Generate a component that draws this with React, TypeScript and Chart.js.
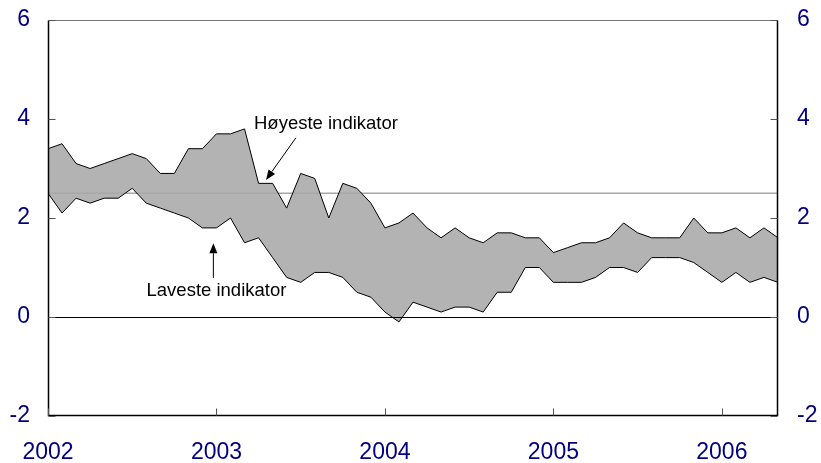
import React, { useEffect, useRef } from 'react';
import { Chart, registerables } from 'chart.js';

Chart.register(...registerables);

const months = [
  '2002-01','2002-02','2002-03','2002-04','2002-05','2002-06','2002-07','2002-08','2002-09','2002-10','2002-11','2002-12',
  '2003-01','2003-02','2003-03','2003-04','2003-05','2003-06','2003-07','2003-08','2003-09','2003-10','2003-11','2003-12',
  '2004-01','2004-02','2004-03','2004-04','2004-05','2004-06','2004-07','2004-08','2004-09','2004-10','2004-11','2004-12',
  '2005-01','2005-02','2005-03','2005-04','2005-05','2005-06','2005-07','2005-08','2005-09','2005-10','2005-11','2005-12',
  '2006-01','2006-02','2006-03','2006-04','2006-05',
];

const highest = [
  3.4, 3.5, 3.1, 3.0, 3.1, 3.2, 3.3, 3.2, 2.9, 2.9, 3.4, 3.4,
  3.7, 3.7, 3.8, 2.7, 2.7, 2.2, 2.9, 2.8, 2.0, 2.7, 2.6, 2.3,
  1.8, 1.9, 2.1, 1.8, 1.6, 1.8, 1.6, 1.5, 1.7, 1.7, 1.6, 1.6,
  1.3, 1.4, 1.5, 1.5, 1.6, 1.9, 1.7, 1.6, 1.6, 1.6, 2.0, 1.7,
  1.7, 1.8, 1.6, 1.8, 1.6,
];

const lowest = [
  2.5, 2.1, 2.4, 2.3, 2.4, 2.4, 2.6, 2.3, 2.2, 2.1, 2.0, 1.8,
  1.8, 2.0, 1.5, 1.6, 1.2, 0.8, 0.7, 0.9, 0.9, 0.8, 0.5, 0.4,
  0.1, -0.1, 0.3, 0.2, 0.1, 0.2, 0.2, 0.1, 0.5, 0.5, 1.0, 1.0,
  0.7, 0.7, 0.7, 0.8, 1.0, 1.0, 0.9, 1.2, 1.2, 1.2, 1.1, 0.9,
  0.7, 0.9, 0.7, 0.8, 0.7,
];

const yearLabels = ['2002', '2003', '2004', '2005', '2006'];
const yearStartMonths = ['2002-01', '2003-01', '2004-01', '2005-01', '2006-01'];
const yTicks = [-2, 0, 2, 4, 6];
const inflationTarget = 2.5;

const annotations = [
  { text: 'Høyeste indikator', textX: 19.8, textY: 3.9, fromX: 17.66, fromY: 3.62, toX: 15.53, toY: 2.77 },
  { text: 'Laveste indikator', textX: 12.0, textY: 0.53, fromX: 11.78, fromY: 0.79, toX: 11.78, toY: 1.49 },
];

const FONT = "'Liberation Sans', Arial, Helvetica, sans-serif";
const NAVY = '#000080';

const overlayPlugin = {
  id: 'overlay',
  beforeDatasetsDraw(chart: any) {
    const { ctx, chartArea: a, scales } = chart;
    const y = scales.y;
    ctx.save();
    const ty = y.getPixelForValue(inflationTarget);
    ctx.strokeStyle = '#a8a8a8';
    ctx.lineWidth = 1.5;
    ctx.beginPath();
    ctx.moveTo(a.left, ty);
    ctx.lineTo(a.right, ty);
    ctx.stroke();
    ctx.restore();
  },
  afterDatasetsDraw(chart: any) {
    const { ctx, chartArea: a, scales } = chart;
    const x = scales.x;
    const y = scales.y;
    ctx.save();
    // zero line
    const zy = Math.round(y.getPixelForValue(0)) + 0.5;
    ctx.strokeStyle = '#000';
    ctx.lineWidth = 1;
    ctx.beginPath();
    ctx.moveTo(a.left, zy);
    ctx.lineTo(a.right, zy);
    ctx.stroke();

    // frame
    const L = Math.round(a.left) + 0.5;
    const R = Math.round(a.right) - 0.5;
    const T = Math.round(a.top) + 0.5;
    const B = Math.round(a.bottom) - 0.5;
    ctx.strokeStyle = '#777';
    ctx.beginPath();
    ctx.moveTo(L, T);
    ctx.lineTo(R, T);
    ctx.stroke();
    ctx.strokeStyle = '#000';
    ctx.lineWidth = 1.5;
    ctx.beginPath();
    ctx.moveTo(L, T);
    ctx.lineTo(L, B);
    ctx.lineTo(R, B);
    ctx.lineTo(R, T);
    ctx.stroke();

    // inward ticks
    ctx.strokeStyle = '#555';
    ctx.lineWidth = 1;
    yTicks.forEach((v) => {
      const py = Math.round(y.getPixelForValue(v)) + 0.5;
      ctx.beginPath();
      ctx.moveTo(L, py);
      ctx.lineTo(L + 7, py);
      ctx.moveTo(R, py);
      ctx.lineTo(R - 7, py);
      ctx.stroke();
    });
    yearStartMonths.forEach((m) => {
      const px = Math.round(x.getPixelForValue(months.indexOf(m))) + 0.5;
      ctx.beginPath();
      ctx.moveTo(px, B);
      ctx.lineTo(px, B - 7);
      ctx.stroke();
    });

    // annotations
    ctx.fillStyle = '#000';
    ctx.strokeStyle = '#000';
    ctx.lineWidth = 1;
    ctx.font = `18.5px ${FONT}`;
    ctx.textAlign = 'center';
    ctx.textBaseline = 'middle';
    annotations.forEach((an) => {
      ctx.fillText(an.text, x.getPixelForValue(an.textX), y.getPixelForValue(an.textY));
      const x1 = x.getPixelForValue(an.fromX);
      const y1 = y.getPixelForValue(an.fromY);
      const x2 = x.getPixelForValue(an.toX);
      const y2 = y.getPixelForValue(an.toY);
      const ang = Math.atan2(y2 - y1, x2 - x1);
      const hl = 10;
      const hw = 4;
      const bx = x2 - hl * Math.cos(ang);
      const by = y2 - hl * Math.sin(ang);
      ctx.beginPath();
      ctx.moveTo(x1, y1);
      ctx.lineTo(bx, by);
      ctx.stroke();
      ctx.beginPath();
      ctx.moveTo(x2, y2);
      ctx.lineTo(bx + hw * Math.sin(ang), by - hw * Math.cos(ang));
      ctx.lineTo(bx - hw * Math.sin(ang), by + hw * Math.cos(ang));
      ctx.closePath();
      ctx.fill();
    });
    ctx.restore();
  },
};

export default function App() {
  const ref = useRef<HTMLCanvasElement | null>(null);
  useEffect(() => {
    if (!ref.current) return;
    const tickFont = { family: FONT, size: 23 };
    const yAxisCommon = {
      type: 'linear' as const,
      min: -2,
      max: 6,
      afterBuildTicks: (s: any) => {
        s.ticks = yTicks.map((v) => ({ value: v }));
      },
      grid: { display: false, drawTicks: false },
      border: { display: false },
    };
    const chart = new Chart(ref.current, {
      type: 'line',
      data: {
        datasets: [
          {
            label: 'Høyeste indikator',
            data: highest.map((v, i) => ({ x: i, y: v })),
            borderColor: '#000',
            borderWidth: 1,
            pointRadius: 0,
            backgroundColor: '#b3b3b3',
            fill: '+1',
            tension: 0,
          },
          {
            label: 'Laveste indikator',
            data: lowest.map((v, i) => ({ x: i, y: v })),
            borderColor: '#000',
            borderWidth: 1,
            pointRadius: 0,
            fill: false,
            tension: 0,
          },
        ],
      },
      options: {
        animation: false,
        responsive: false,
        devicePixelRatio: 1,
        layout: { padding: { top: 20, left: 0, right: 0, bottom: 0 } },
        plugins: {
          legend: { display: false },
          tooltip: { enabled: false },
          filler: { drawTime: 'beforeDatasetsDraw' },
        },
        scales: {
          x: {
            type: 'linear',
            min: 0,
            max: months.length - 1,
            afterBuildTicks: (s: any) => {
              s.ticks = yearStartMonths.map((m) => ({ value: months.indexOf(m) }));
            },
            afterFit: (s: any) => {
              s.height = 47;
              s.paddingLeft = 0;
              s.paddingRight = 0;
            },
            ticks: {
              callback: (v: any) => yearLabels[yearStartMonths.indexOf(months[v as number])],
              color: NAVY,
              font: tickFont,
              padding: 23,
              maxRotation: 0,
              autoSkip: false,
            },
            grid: { display: false, drawTicks: false },
            border: { display: false },
          },
          y: {
            ...yAxisCommon,
            position: 'left',
            afterFit: (s: any) => {
              s.width = 48;
              s.paddingTop = 0;
              s.paddingBottom = 0;
            },
            ticks: { color: NAVY, font: tickFont, padding: 18 },
          },
          y2: {
            ...yAxisCommon,
            position: 'right',
            afterFit: (s: any) => {
              s.width = 43;
              s.paddingTop = 0;
              s.paddingBottom = 0;
            },
            ticks: { color: NAVY, font: tickFont, padding: 19 },
          },
        },
      } as any,
      plugins: [overlayPlugin],
    });
    return () => chart.destroy();
  }, []);
  return (
    <div style={{ position: 'fixed', left: 0, top: 0, width: 821, height: 463, background: '#fff' }}>
      <canvas ref={ref} width={821} height={463} />
    </div>
  );
}
